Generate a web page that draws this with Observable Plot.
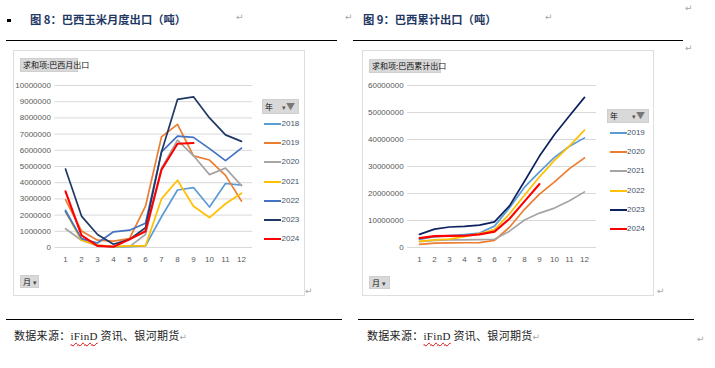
<!DOCTYPE html>
<html>
<head>
<meta charset="utf-8">
<script src="https://cdn.jsdelivr.net/npm/d3@7"></script>
<script src="https://cdn.jsdelivr.net/npm/@observablehq/plot@0.6"></script>
<style>
  html, body { margin: 0; padding: 0; background: #fff; }
  #page { position: relative; width: 715px; height: 368px; overflow: hidden; background: #fff; font-family: "Noto Sans CJK SC", sans-serif; }
  .abs { position: absolute; }
  .title { font-weight: 700; font-size: 11.3px; line-height: 14px; color: #1F3864; white-space: nowrap; }
  .rule { height: 1.3px; background: #000; }
  .pm { color: #a6a6a6; font-family: "DejaVu Sans", sans-serif; font-size: 9px; line-height: 10px; }
  .box { border: 1px solid #dedede; box-sizing: border-box; background: #fff; }
  .btn { background: #d9d9d9; border: 1px solid #cfcfcf; box-sizing: border-box; font-size: 8px; line-height: 12px; color: #111; white-space: nowrap; padding-left: 2px; }
  .leg { font-family: "Liberation Sans", Arial, sans-serif; font-size: 8px; line-height: 10px; color: #44546A; white-space: nowrap; }
  .sw { height: 2px; }
  .foot { font-size: 11px; line-height: 14px; color: #222; white-space: nowrap; letter-spacing: 0.3px; }
  .foot .en { font-family: "Liberation Serif", serif; text-decoration: underline wavy #e00000; text-decoration-thickness: 1px; text-underline-offset: 2px; }
</style>
</head>
<body>
<div id="page">
  <!-- headers -->
  <div class="abs" style="left:7px;top:18.5px;width:3.5px;height:3.5px;background:#000"></div>
  <div class="abs title" style="left:30px;top:12px">图 8：巴西玉米月度出口（吨）</div>
  <div class="abs pm" style="left:236px;top:12px">↵</div>
  <div class="abs pm" style="left:345px;top:12px">↵</div>
  <div class="abs title" style="left:363px;top:11.5px">图 9：巴西累计出口（吨）</div>
  <div class="abs pm" style="left:545px;top:12px">↵</div>
  <div class="abs pm" style="left:685px;top:3px">↵</div>
  <div class="abs pm" style="left:685px;top:43px">↵</div>
  <div class="abs rule" style="left:6px;top:39.5px;width:331px"></div>
  <div class="abs rule" style="left:353px;top:39.5px;width:330px"></div>

  <!-- chart boxes -->
  <div class="abs box" style="left:13px;top:50px;width:292px;height:246px"></div>
  <div class="abs box" style="left:362px;top:50px;width:292px;height:246px"></div>
  <div id="c1" class="abs" style="left:13px;top:50px"></div>
  <div id="c2" class="abs" style="left:362px;top:50px"></div>

  <div class="abs btn" style="left:20px;top:58px;width:58px;height:14px">求和项:巴西月出口</div>
  <div class="abs btn" style="left:369px;top:59px;width:72px;height:14px">求和项:巴西累计出口</div>
  <div class="abs btn" style="left:20px;top:275px;width:19px;height:13px">月 <span style="font-size:7px;color:#444">▾</span></div>
  <div class="abs btn" style="left:369px;top:276px;width:21px;height:13px">月 <span style="font-size:7px;color:#444">▾</span></div>

  <div id="leg1"></div>
  <div id="leg2"></div>

  <div class="abs pm" style="left:305px;top:286px">↵</div>
  <div class="abs pm" style="left:657px;top:286px">↵</div>

  <!-- footers -->
  <div class="abs rule" style="left:6px;top:318.5px;width:336px"></div>
  <div class="abs rule" style="left:358px;top:318.5px;width:336px"></div>
  <div class="abs foot" style="left:14px;top:328px">数据来源：<span class="en">iFinD</span> 资讯、银河期货<span class="pm" style="font-size:9px">↵</span></div>
  <div class="abs foot" style="left:367px;top:328px">数据来源：<span class="en">iFinD</span> 资讯、银河期货<span class="pm" style="font-size:9px">↵</span></div>
  <div class="abs pm" style="left:697px;top:334px">↵</div>
</div>

<script>
// ---------- data (tonnes) ----------
const months = [1, 2, 3, 4, 5, 6, 7, 8, 9, 10, 11, 12];

// Figure 8: monthly exports
const monthlyYears = ["2018", "2019", "2020", "2021", "2022", "2023", "2024"];
const monthly2018 = [2300000, 500000, 150000, 20000, 50000, 100000, 1900000, 3550000, 3700000, 2500000, 3950000, 3850000];
const monthly2019 = [2950000, 1020000, 450000, 390000, 550000, 2550000, 6830000, 7600000, 5660000, 5400000, 4450000, 2860000];
const monthly2020 = [1160000, 450000, 100000, 50000, 50000, 800000, 4900000, 6630000, 5660000, 4500000, 4900000, 3820000];
const monthly2021 = [2200000, 450000, 150000, 50000, 100000, 100000, 3000000, 4150000, 2550000, 1850000, 2700000, 3350000];
const monthly2022 = [2240000, 550000, 280000, 970000, 1070000, 1500000, 5900000, 6870000, 6800000, 6100000, 5360000, 6130000];
const monthly2023 = [4850000, 1940000, 800000, 200000, 500000, 1220000, 5900000, 9140000, 9300000, 8000000, 6950000, 6550000];
const monthly2024 = [3470000, 750000, 100000, 50000, 500000, 1000000, 4800000, 6400000, 6450000];
const monthlyTicks = [0, 1000000, 2000000, 3000000, 4000000, 5000000, 6000000, 7000000, 8000000, 9000000, 10000000];

// Figure 9: cumulative exports
const cumYears = ["2019", "2020", "2021", "2022", "2023", "2024"];
const cum2019 = [2950000, 3970000, 4420000, 4810000, 5360000, 7910000, 14740000, 22340000, 28000000, 33400000, 37500000, 40600000];
const cum2020 = [1160000, 1610000, 1710000, 1760000, 1810000, 2610000, 7510000, 14140000, 19800000, 24300000, 29200000, 33200000];
const cum2021 = [2200000, 2650000, 2800000, 2850000, 2950000, 3050000, 6050000, 10200000, 12750000, 14600000, 17300000, 20600000];
const cum2022 = [2240000, 2790000, 3070000, 4040000, 5110000, 6610000, 12510000, 19380000, 26180000, 32280000, 37640000, 43500000];
const cum2023 = [4850000, 6790000, 7590000, 7790000, 8290000, 9510000, 15410000, 24550000, 33850000, 41850000, 48800000, 55600000];
const cum2024 = [3470000, 4220000, 4320000, 4370000, 4870000, 5870000, 10670000, 17070000, 23520000];
const cumTicks = [0, 10000000, 20000000, 30000000, 40000000, 50000000, 60000000];

const monthlyColors = ["#5B9BD5", "#ED7D31", "#A5A5A5", "#FFC000", "#4472C4", "#203864", "#FF0000"];
const cumColors = ["#5B9BD5", "#ED7D31", "#A5A5A5", "#FFC000", "#0B2160", "#FF0000"];

// ---------- build tables ----------
function toRows(years, series) {
  const rows = [];
  years.forEach((y, i) => series[i].forEach((v, j) => rows.push({year: y, month: months[j], value: v})));
  return rows;
}
const monthlyRows = toRows(monthlyYears, [monthly2018, monthly2019, monthly2020, monthly2021, monthly2022, monthly2023, monthly2024]);
const cumRows = toRows(cumYears, [cum2019, cum2020, cum2021, cum2022, cum2023, cum2024]);

function chart(rows, years, colors, ticks, marginLeft, marginRight) {
  return Plot.plot({
    width: 292,
    height: 245,
    marginLeft,
    marginRight,
    marginTop: 35,
    marginBottom: 48,
    style: {fontFamily: "'Liberation Sans', Arial, sans-serif", fontSize: "8px", color: "#595959", background: "transparent", overflow: "visible"},
    x: {type: "point", domain: months, padding: 0.5, label: null},
    y: {domain: [0, ticks[ticks.length - 1]], label: null},
    color: {domain: years, range: colors},
    marks: [
      Plot.gridY(ticks, {stroke: "#D9D9D9", strokeOpacity: 1, strokeWidth: 1}),
      Plot.axisY(ticks, {tickSize: 0, tickPadding: 4, tickFormat: d => String(d), fill: "#595959", label: null}),
      Plot.axisX(months, {tickSize: 0, tickPadding: 9, fill: "#595959", label: null}),
      Plot.line(rows.filter(d => d.year !== "2024"), {x: "month", y: "value", z: "year", stroke: "year", strokeWidth: 1.7}),
      Plot.line(rows.filter(d => d.year === "2024"), {x: "month", y: "value", z: "year", stroke: "year", strokeWidth: 2.1})
    ]
  });
}

document.getElementById("c1").appendChild(chart(monthlyRows, monthlyYears, monthlyColors, monthlyTicks, 41.4, 52.7));
document.getElementById("c2").appendChild(chart(cumRows, cumYears, cumColors, cumTicks, 45.1, 57.8));

// ---------- legends ----------
function legend(id, years, colors, hx, hy, hw, hh, sx, y0, dy) {
  const el = document.getElementById(id);
  let html = `<div class="abs btn" style="left:${hx}px;top:${hy}px;width:${hw}px;height:${hh}px;line-height:${hh - 2}px">年<span style="position:absolute;right:3px;top:0;font-size:7px;color:#555">▾<span style="font-size:9px;color:#777">▼</span></span></div>`;
  years.forEach((y, i) => {
    const cy = y0 + i * dy;
    html += `<div class="abs sw" style="left:${sx}px;top:${cy - 1}px;width:17px;background:${colors[i]}"></div>`;
    html += `<div class="abs leg" style="left:${sx + 17.5}px;top:${cy - 5}px">${y}</div>`;
  });
  el.innerHTML = html;
}
legend("leg1", monthlyYears, monthlyColors, 262, 99, 37, 15, 264, 124, 19.2);
legend("leg2", cumYears, cumColors, 607, 109, 42, 14, 609.5, 133, 19.2);
</script>
</body>
</html>
